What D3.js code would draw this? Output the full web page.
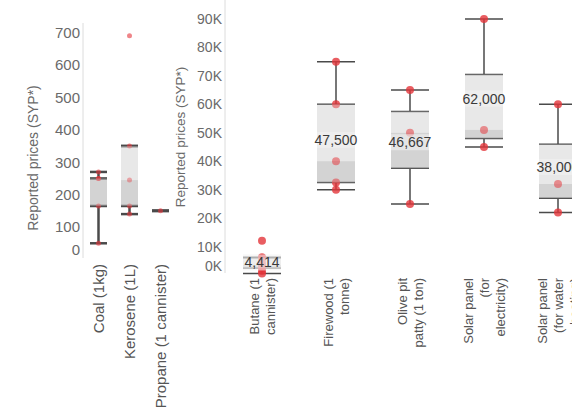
<!DOCTYPE html>
<html>
<head>
<meta charset="utf-8">
<script src="https://cdn.jsdelivr.net/npm/d3@7"></script>
<style>
  body { margin: 0; background: #fff; }
  svg text { font-family: "Liberation Sans", Arial, sans-serif; }
</style>
</head>
<body>
<div id="chart"></div>
<script>

// small-price fuels (left panel)
var smallCats = ["Coal (1kg)", "Kerosene (1L)", "Propane (1 cannister)"];
var coal = [50, 165, 250, 250, 270];
var kerosene = [140, 165, 245, 350, 690];
var propane = [150];
var smallTicks = [0, 100, 200, 300, 400, 500, 600, 700];

// large-price items (right panel)
var bigCats = ["Butane (1 cannister)", "Firewood (1 tonne)", "Olive pit patty (1 ton)",
  "Solar panel (for electricity)", "Solar panel (for water heating)"];
var butane = [500, 1500, 2500, 3000, 3500, 4500, 6000, 6229, 12000];
var firewood = [30000, 32500, 40000, 60000, 75000];
var olivePit = [25000, 50000, 65000];
var solarElec = [45000, 51000, 90000];
var solarWater = [22000, 32000, 60000];
var bigTicks = [0, 10000, 20000, 30000, 40000, 50000, 60000, 70000, 80000, 90000];

var width = 572, height = 409;
var red = "rgb(228,52,58)";

var svg = d3.select("#chart").append("svg")
  .attr("width", width)
  .attr("height", height);

function boxStats(vals) {
  var s = vals.slice().sort(d3.ascending);
  var q1 = d3.quantile(s, 0.25), med = d3.quantile(s, 0.5), q3 = d3.quantile(s, 0.75);
  var iqr = q3 - q1;
  var inside = s.filter(function(v) { return v >= q1 - 1.5 * iqr && v <= q3 + 1.5 * iqr; });
  return { q1: q1, med: med, q3: q3, lo: d3.min(inside), hi: d3.max(inside), mean: d3.mean(s), vals: s };
}

function drawPanel(opt) {
  var g = svg.append("g");
  var x = d3.scaleBand().domain(opt.cats).range(opt.xRange);
  var y = d3.scaleLinear().domain(opt.yDomain).range(opt.yRange);

  // axis line
  g.append("line")
    .attr("x1", opt.xRange[0]).attr("x2", opt.xRange[0])
    .attr("y1", opt.axisTop).attr("y2", opt.axisBottom)
    .attr("stroke", "#dcdcdc").attr("stroke-width", 1);

  var ax = g.append("g")
    .attr("transform", "translate(" + (opt.xRange[0] - 3) + ",0)")
    .call(d3.axisLeft(y).tickValues(opt.ticks).tickSize(0).tickPadding(0).tickFormat(opt.fmt));
  ax.select(".domain").remove();
  ax.selectAll("text")
    .style("font-size", opt.tickSize + "px")
    .attr("fill", "#6a6a6a")
    .attr("dy", function(d) { return d === 0 ? "-0.33em" : "0.32em"; });

  // y title
  g.append("text")
    .attr("transform", "translate(" + opt.titleX + "," + opt.titleY + ")rotate(-90)")
    .attr("text-anchor", "middle")
    .attr("dy", "0.35em")
    .style("font-size", opt.titleSize + "px")
    .attr("fill", "#6a6a6a")
    .text("Reported prices (SYP*)");

  opt.series.forEach(function(vals, i) {
    var st = boxStats(vals);
    var cx = x(opt.cats[i]) + x.bandwidth() / 2;
    var bw = opt.boxW;
    var b = g.append("g");

    function bands(alpha) {
      b.append("rect")
        .attr("x", cx - bw / 2).attr("width", bw)
        .attr("y", y(st.q3)).attr("height", y(st.med) - y(st.q3))
        .attr("fill", "#e9e9e9").attr("opacity", alpha);
      b.append("rect")
        .attr("x", cx - bw / 2).attr("width", bw)
        .attr("y", y(st.med)).attr("height", y(st.q1) - y(st.med))
        .attr("fill", "#d3d3d3").attr("opacity", alpha);
    }
    bands(1);

    [[st.q3, st.hi], [st.q1, st.lo]].forEach(function(p) {
      b.append("line")
        .attr("x1", cx).attr("x2", cx)
        .attr("y1", y(p[0])).attr("y2", y(p[1]))
        .attr("stroke", "#4a4a4a").attr("stroke-width", opt.lineW);
    });
    [st.hi, st.q3, st.q1, st.lo].forEach(function(v) {
      b.append("line")
        .attr("x1", cx - bw / 2).attr("x2", cx + bw / 2)
        .attr("y1", y(v)).attr("y2", y(v))
        .attr("stroke", "#4a4a4a").attr("stroke-width", opt.lineW);
    });

    b.selectAll("circle").data(st.vals).enter().append("circle")
      .attr("cx", cx).attr("cy", function(d) { return y(d); })
      .attr("r", opt.dotR)
      .attr("fill", red)
      .attr("opacity", opt.dotOpacity);

    // box shading sits a little over the points
    bands(0.35);

    if (opt.showMean) {
      b.append("rect")
        .attr("x", cx - bw / 2).attr("width", bw)
        .attr("y", y(st.mean) - 8).attr("height", 16)
        .attr("fill", "#f2f2f2").attr("opacity", 0.6);
      b.append("text")
        .attr("x", cx).attr("y", y(st.mean))
        .attr("dy", "0.35em")
        .attr("text-anchor", "middle")
        .style("font-size", "14px")
        .attr("fill", "#3a3a3a")
        .text(d3.format(",.0f")(st.mean));
    }
  });

  // category labels, rotated and wrapped
  opt.cats.forEach(function(c) {
    var cx = x(c) + x.bandwidth() / 2;
    var t = g.append("text")
      .attr("text-anchor", "end")
      .style("font-size", opt.catSize + "px")
      .attr("fill", "#555");
    var words = c.split(" "), lines = [], cur = "";
    words.forEach(function(w) {
      var test = cur ? cur + " " + w : w;
      t.text(test);
      if (opt.wrap && cur && t.node().getComputedTextLength() > opt.wrap) {
        lines.push(cur);
        cur = w;
      } else {
        cur = test;
      }
    });
    lines.push(cur);
    t.remove();
    lines.forEach(function(line, k) {
      var lx = cx + (k - (lines.length - 1) / 2) * 16;
      g.append("text")
        .attr("transform", "translate(" + lx + "," + opt.catY + ")rotate(-90)")
        .attr("text-anchor", "end")
        .attr("dy", "0.35em")
        .style("font-size", opt.catSize + "px")
        .attr("fill", "#555")
        .text(line);
    });
  });
}

drawPanel({
  cats: smallCats,
  series: [coal, kerosene, propane],
  xRange: [83, 176],
  yDomain: [0, 700],
  yRange: [259.5, 32.5],
  axisTop: 23, axisBottom: 258,
  ticks: smallTicks,
  fmt: d3.format("d"),
  tickSize: 15,
  titleX: 33, titleY: 158, titleSize: 14,
  boxW: 17, lineW: 2.5,
  dotR: 2.5, dotOpacity: 0.6,
  showMean: false,
  catSize: 15, catY: 264, wrap: 0
});

drawPanel({
  cats: bigCats,
  series: [butane, firewood, olivePit, solarElec, solarWater],
  xRange: [225, 595],
  yDomain: [0, 90000],
  yRange: [275, 19],
  axisTop: 0, axisBottom: 273,
  ticks: bigTicks,
  fmt: function(d) { return (d / 1000) + "K"; },
  tickSize: 14,
  titleX: 180, titleY: 137, titleSize: 13.5,
  boxW: 38, lineW: 1.5,
  dotR: 4, dotOpacity: 0.8,
  showMean: true,
  catSize: 13, catY: 278, wrap: 72
});

</script>
</body>
</html>
